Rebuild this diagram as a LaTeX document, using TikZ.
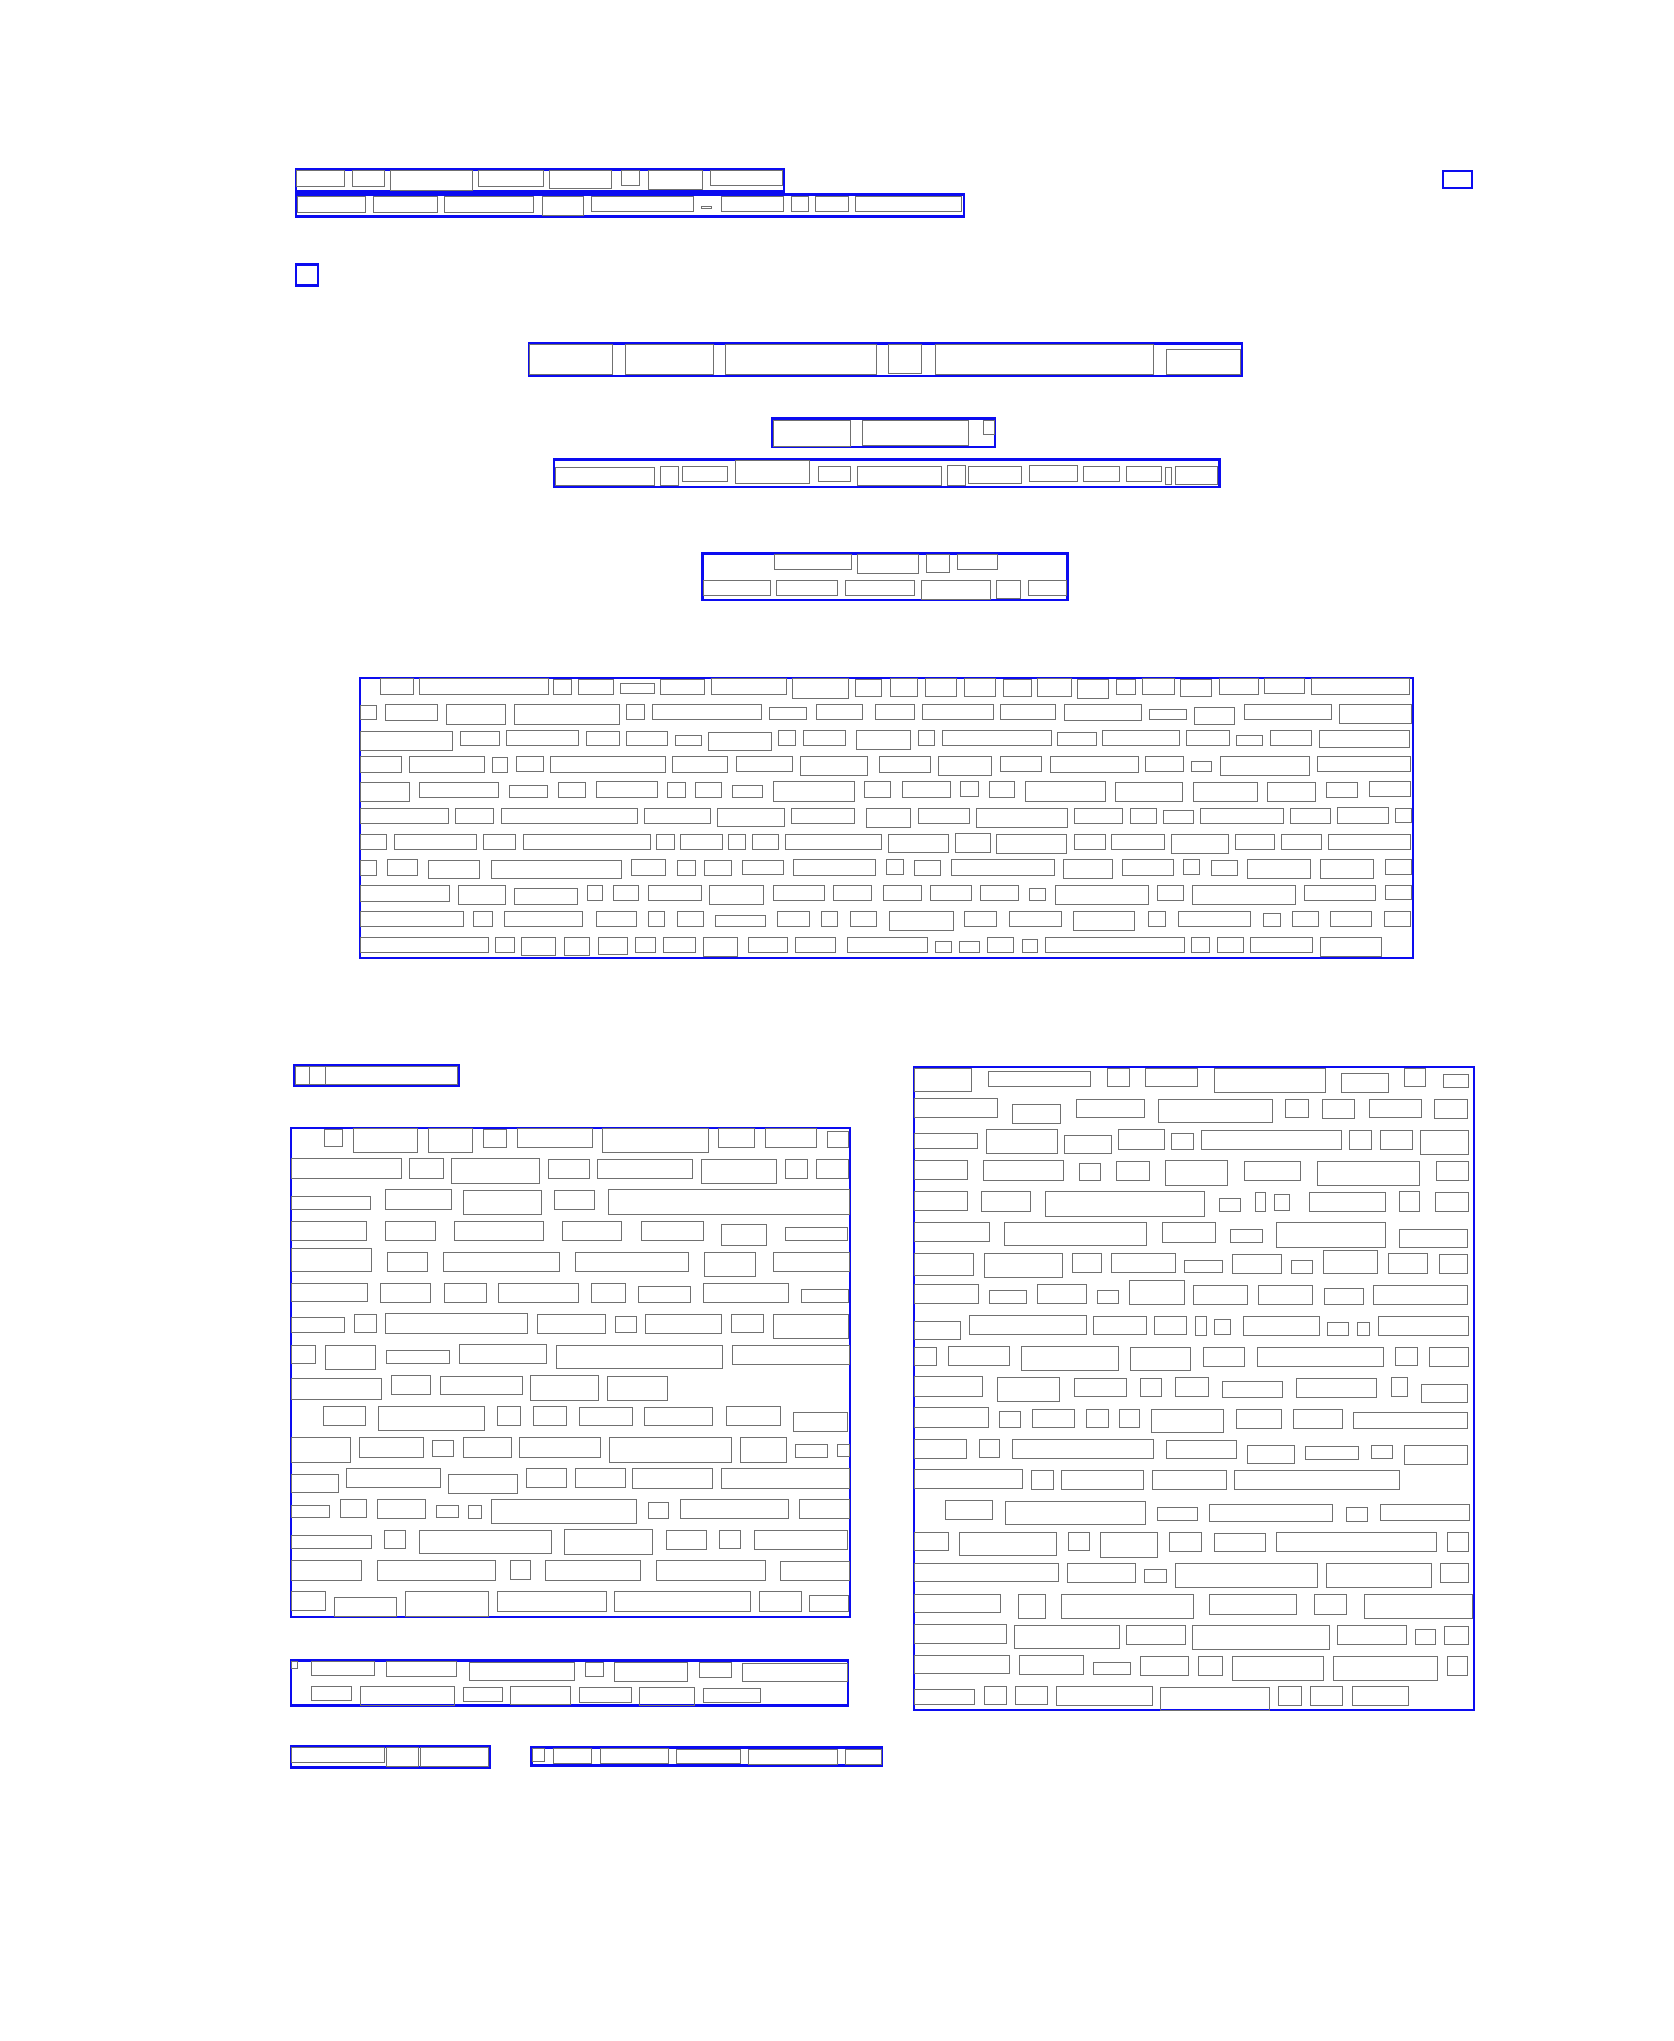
\documentclass[tikz,border=0pt]{standalone}
\definecolor{lblue}{RGB}{12,12,240}
\definecolor{wgray}{RGB}{112,112,112}
\tikzset{
  word/.style={draw=wgray, line width=0.5pt},
  blk/.style={draw=lblue, line width=1.2pt},
}
\begin{document}
\begin{tikzpicture}[x=0.5pt,y=-0.5pt]
\useasboundingbox[fill=white] (0,0) rectangle (1674,2041);

% ---------- top header lines (crop 1) ----------
\begin{scope}[shift={(280,150)},xscale=0.4583,yscale=0.3333]
\foreach \a/\b/\c/\d in {35/58/1100/125, 35/133/1493/200, 35/343/83/406}
  \draw[blk] (\a,\b) rectangle (\c,\d);
\foreach \a/\b/\c/\d in {37/62/140/110, 158/62/228/110, 241/62/419/122, 434/62/574/110,
  589/62/724/116, 746/62/785/106, 805/62/922/118, 940/62/1097/106,
  38/138/186/188, 204/138/343/188, 360/138/554/188, 572/138/663/195, 680/138/903/185,
  920/169/942/176, 964/138/1099/185, 1116/138/1153/185, 1168/138/1240/185, 1255/138/1488/185}
  \draw[word] (\a,\b) rectangle (\c,\d);
\end{scope}

% top right small box
\draw[blk] (1443,171) rectangle (1472,188);

% ---------- centred title blocks (crop 2) ----------
\begin{scope}[shift={(500,330)},xscale=0.4965,yscale=0.3333]
\foreach \a/\b/\c/\d in {58/40/1495/138, 549/266/997/351, 109/389/1449/471, 408/671/1143/810}
  \draw[blk] (\a,\b) rectangle (\c,\d);
\foreach \a/\b/\c/\d in {60/44/226/134, 252/44/429/134, 455/44/759/134, 783/44/849/130,
  877/44/1316/134, 1342/58/1492/134,
  551/270/705/349, 731/270/944/347, 974/270/995/313,
  111/412/311/466, 323/409/359/466, 367/409/459/454, 475/392/624/460, 642/409/705/454,
  721/409/890/466, 902/406/938/466, 944/409/1050/460, 1066/406/1163/454, 1175/409/1247/454,
  1261/409/1332/454, 1340/412/1352/463, 1360/409/1446/463,
  552/674/707/718, 721/674/843/730, 859/674/906/727, 922/674/1002/718,
  410/751/544/796, 556/751/680/796, 695/751/835/796, 849/751/988/808, 1000/751/1048/805,
  1064/751/1141/796}
  \draw[word] (\a,\b) rectangle (\c,\d);
\end{scope}

% ---------- big abstract block ----------
\draw[blk] (360,678) rectangle (1413,958);
\begin{scope}[shift={(355,675)},xscale=0.3438,yscale=0.3333]
\foreach \a/\b/\c/\d in {74/10/170/58, 187/10/562/58, 577/12/629/58, 649/12/753/58,
  773/25/872/55, 890/12/1017/58, 1038/10/1255/58, 1273/10/1435/70, 1456/12/1531/64,
  17/91/62/133, 88/88/240/136, 265/88/437/148, 463/88/768/148, 791/88/843/133,
  866/88/1183/133, 1206/97/1313/133, 1342/88/1476/133,
  17/170/283/226, 306/170/419/211, 442/166/649/211, 672/170/768/211, 791/170/910/211,
  933/181/1009/211, 1029/172/1212/226, 1232/166/1282/211, 1305/166/1427/211,
  17/244/135/292, 158/244/376/292, 399/247/445/292, 471/244/547/289, 570/244/904/292,
  924/244/1084/292, 1110/244/1273/289, 1296/244/1491/301,
  17/322/158/379, 187/322/416/367, 448/331/561/367, 593/322/669/367, 701/319/881/367,
  910/322/962/367, 991/322/1067/367, 1099/331/1186/367, 1218/319/1453/379, 1482/319/1557/367,
  17/400/271/445, 291/400/402/445, 425/400/823/445, 843/400/1035/445, 1055/400/1249/454,
  1270/400/1453/445,
  17/479/91/523, 114/479/352/523, 373/479/468/523, 489/479/860/523, 878/479/930/523,
  948/479/1069/523, 1087/479/1136/523, 1157/479/1232/523, 1252/479/1531/523,
  17/556/62/601, 94/553/181/601, 213/556/361/610, 396/556/776/610, 805/553/904/601,
  939/556/991/601, 1017/556/1096/601, 1128/556/1247/598, 1276/553/1514/601,
  17/631/274/679, 300/631/437/688, 463/640/648/688, 675/631/721/676, 753/631/826/676,
  855/631/1008/676, 1032/631/1189/688, 1218/631/1366/676, 1392/631/1502/676,
  17/709/315/754, 346/709/399/754, 434/709/663/754, 701/709/820/754, 855/709/901/754,
  939/709/1014/754, 1049/721/1194/754, 1229/709/1322/754, 1357/709/1403/754, 1441/709/1517/754,
  17/787/387/832, 410/787/463/832, 483/787/582/842, 608/787/683/842, 709/787/794/838,
  817/787/875/832, 898/787/991/832, 1014/787/1113/845, 1145/787/1258/832, 1282/787/1398/832}
  \draw[word] (\a,\b) rectangle (\c,\d);
\end{scope}
\begin{scope}[shift={(885,675)},xscale=0.3438,yscale=0.3333]
\foreach \a/\b/\c/\d in {15/10/95/64, 117/10/207/64, 230/10/320/64, 344/12/425/64,
  445/10/541/64, 561/12/651/70, 672/12/730/58, 750/10/843/58, 860/12/951/64,
  974/10/1087/58, 1104/10/1221/55, 1241/10/1526/58,
  -29/88/85/133, 108/88/315/133, 335/88/495/133, 521/88/747/136, 770/103/878/133,
  901/97/1017/148, 1046/88/1299/133, 1322/88/1531/145,
  -84/166/74/223, 97/166/143/211, 166/166/483/211, 503/172/614/211, 634/166/857/211,
  878/166/1003/211, 1023/181/1099/211, 1122/166/1241/211, 1264/166/1526/217,
  -17/244/132/292, 155/244/309/301, 335/244/454/289, 480/244/736/292, 759/244/869/289,
  892/259/951/289, 977/244/1235/301, 1258/244/1528/289,
  50/319/190/367, 219/319/271/364, 303/319/376/367, 408/319/640/379, 669/322/866/379,
  898/322/1084/379, 1113/322/1252/379, 1284/322/1374/367, 1409/319/1528/364,
  -55/400/74/457, 97/400/245/445, 265/400/532/457, 550/400/692/445, 715/400/791/445,
  811/406/898/445, 918/400/1160/445, 1180/400/1296/445, 1316/397/1464/445, 1485/400/1531/442,
  10/479/184/532, 204/475/306/532, 323/479/529/535, 550/479/640/523, 660/479/814/523,
  834/479/1000/535, 1020/479/1133/523, 1154/479/1270/523, 1290/479/1528/523,
  4/553/53/598, 86/556/161/601, 193/553/492/601, 518/553/663/610, 692/553/840/601,
  869/553/916/598, 951/556/1026/601, 1055/553/1238/610, 1267/553/1421/610, 1456/553/1531/598,
  -3/631/106/676, 132/631/251/676, 277/631/387/676, 419/640/468/676, 495/631/765/688,
  794/631/869/676, 895/631/1194/688, 1221/631/1427/676, 1456/631/1531/673,
  13/709/198/766, 230/709/323/754, 361/709/512/754, 547/709/727/766, 765/709/817/754,
  855/709/1064/754, 1102/715/1151/754, 1186/709/1261/754, 1296/709/1415/754, 1453/709/1528/754,
  -110/787/123/832, 146/799/193/832, 216/799/274/832, 297/787/373/832, 399/793/445/832,
  466/787/872/832, 892/787/945/832, 968/787/1043/832, 1064/787/1244/832, 1267/787/1444/845}
  \draw[word] (\a,\b) rectangle (\c,\d);
\end{scope}

% ---------- left column ----------
\draw[blk] (291,1128) rectangle (850,1617);
\begin{scope}[shift={(288,1060)},xscale=0.3641,yscale=0.3333]
\draw[blk] (17,17) rectangle (469,78);
\foreach \a/\b/\c/\d in {20/20/59/74, 59/20/102/74, 102/20/465/74,
  100/208/150/259, 179/205/355/277, 385/205/506/277, 538/208/599/262, 629/205/835/262,
  864/205/1156/277, 1182/205/1282/262, 1311/205/1452/262, 1481/214/1540/262,
  10/295/312/355, 335/295/427/355, 448/295/692/370, 716/298/827/355, 851/298/1111/355,
  1136/298/1341/370, 1366/298/1427/355, 1451/298/1540/355,
  10/409/227/448, 267/388/448/448, 483/391/697/463, 733/391/843/448, 881/388/1543/463,
  10/484/216/541, 267/484/405/541, 456/484/701/541, 755/484/917/541, 971/484/1142/541,
  1191/493/1314/556, 1366/502/1537/541,
  10/565/229/634, 272/577/382/634, 426/577/747/634, 790/577/1101/634, 1144/577/1284/649,
  1333/577/1543/634,
  10/670/218/724, 253/670/390/727, 429/670/545/727, 579/670/797/727, 834/670/926/727,
  963/679/1106/727, 1141/670/1375/727, 1410/688/1540/727,
  10/772/155/817, 182/763/242/817, 267/760/659/820, 684/763/873/820, 900/769/958/817,
  982/763/1191/820, 1218/763/1306/817, 1333/763/1540/835,
  10/856/76/910, 102/856/240/928, 270/871/443/910, 470/853/709/910, 738/856/1194/925,
  1221/856/1543/913}
  \draw[word] (\a,\b) rectangle (\c,\d);
\end{scope}
\begin{scope}[shift={(288,1370)},xscale=0.3641,yscale=0.3333]
\foreach \a/\b/\c/\d in {10/25/256/88, 283/16/391/73, 418/19/643/73, 667/16/852/91, 878/19/1043/91,
  97/109/213/166, 248/109/539/181, 574/109/638/166, 673/109/764/166, 801/112/945/166,
  980/112/1167/166, 1204/109/1353/166, 1388/127/1537/184,
  10/202/172/277, 196/202/372/262, 398/211/454/259, 481/202/613/262, 637/202/857/262,
  884/202/1219/277, 1243/202/1370/277, 1394/223/1482/262, 1509/223/1543/259,
  10/313/139/367, 160/295/418/352, 440/313/629/370, 656/295/764/352, 790/295/926/352,
  947/295/1167/355, 1191/295/1543/355,
  10/406/114/442, 144/388/216/442, 245/388/377/445, 409/406/468/442, 497/406/531/445,
  560/388/956/460, 991/397/1046/445, 1078/388/1375/445, 1405/388/1543/445,
  10/496/229/535, 264/481/322/535, 360/481/725/550, 760/478/1002/553, 1040/481/1150/538,
  1185/481/1244/535, 1281/481/1537/538,
  10/571/202/631, 245/571/569/631, 610/571/665/628, 708/571/969/631, 1013/571/1312/631,
  1352/574/1543/631,
  10/664/103/721, 127/682/298/740, 322/664/550/740, 574/664/876/724, 897/664/1271/724,
  1295/664/1411/724, 1432/676/1540/724}
  \draw[word] (\a,\b) rectangle (\c,\d);
\end{scope}
\begin{scope}[shift={(288,1660)},xscale=0.3864,yscale=0.3333]
\foreach \a/\b/\c/\d in {8/2/1450/137, 8/260/522/322, 630/263/1538/316}
  \draw[blk] (\a,\b) rectangle (\c,\d);
\foreach \a/\b/\c/\d in {10/4/24/25, 60/4/223/46, 254/4/435/49, 471/7/742/61, 771/7/817/49,
  846/7/1034/64, 1066/7/1148/52, 1176/10/1447/64,
  60/79/164/121, 187/79/430/136, 453/82/554/124, 577/79/732/133, 755/82/890/127,
  910/82/1052/136, 1076/85/1223/127,
  10/263/249/307, 254/263/337/319, 342/263/519/319,
  633/265/665/304, 686/265/786/310, 810/265/986/310, 1006/268/1171/310, 1192/268/1422/313,
  1442/268/1535/313}
  \draw[word] (\a,\b) rectangle (\c,\d);
\end{scope}

% ---------- right column ----------
\draw[blk] (914,1067) rectangle (1474,1710);
\begin{scope}[shift={(912,1062)},xscale=0.3666,yscale=0.3333]
\foreach \a/\b/\c/\d in {8/18/162/88, 208/28/486/73, 532/18/592/73, 638/18/780/73,
  826/18/1128/91, 1172/34/1299/91, 1343/18/1401/73, 1449/37/1518/76,
  8/109/233/166, 273/127/405/184, 450/112/635/166, 673/112/982/181, 1019/112/1082/166,
  1120/112/1208/169, 1248/112/1389/166, 1425/112/1515/169,
  8/214/179/259, 202/202/396/274, 417/220/543/274, 564/202/688/262, 709/214/769/262,
  790/205/1172/262, 1193/205/1254/262, 1278/205/1366/262, 1387/205/1518/277,
  8/295/151/352, 194/295/412/355, 456/304/513/355, 559/298/649/355, 692/295/861/370,
  907/298/1061/355, 1106/298/1385/370, 1430/298/1518/355,
  8/388/151/445, 189/388/323/448, 363/388/799/463, 839/409/895/448, 937/391/965/448,
  989/397/1031/445, 1084/391/1291/448, 1329/388/1385/448, 1427/391/1518/448,
  8/481/211/538, 251/481/641/550, 684/481/829/541, 869/502/957/541, 994/481/1291/556,
  1329/502/1515/556,
  8/574/168/640, 197/574/410/646, 439/574/516/631, 543/574/718/631, 744/595/846/631,
  875/577/1009/634, 1035/595/1093/634, 1123/565/1270/634, 1299/574/1406/634, 1438/577/1515/634,
  8/667/181/724, 211/685/312/724, 341/667/475/724, 505/685/562/724, 594/655/742/727,
  769/670/916/727, 946/670/1093/727, 1125/679/1232/727, 1259/670/1515/727,
  8/778/132/832, 156/760/475/817, 496/763/639/817, 662/763/750/817, 774/763/802/820,
  826/772/870/817, 905/763/1112/820, 1133/781/1191/820, 1215/781/1248/820, 1272/763/1518/820,
  8/856/67/910, 99/853/266/910, 298/853/562/925, 597/856/761/925, 796/856/907/913,
  943/856/1286/913, 1319/856/1379/910, 1411/856/1518/913}
  \draw[word] (\a,\b) rectangle (\c,\d);
\end{scope}
\begin{scope}[shift={(912,1385)},xscale=0.3666,yscale=0.3333]
\foreach \a/\b/\c/\d in {8/-26/192/34, 232/-23/402/49, 442/-20/584/34, 624/-20/680/34,
  720/-23/810/34, 848/-11/1011/37, 1049/-20/1267/37, 1308/-23/1352/34, 1389/-2/1515/52,
  8/67/208/127, 238/79/296/127, 328/73/443/127, 475/73/535/127, 567/73/620/127,
  652/73/851/142, 886/73/1009/130, 1041/73/1175/130, 1204/82/1515/130,
  8/163/149/220, 183/163/239/217, 273/163/660/220, 695/166/884/220, 916/181/1042/235,
  1074/184/1219/223, 1253/181/1311/220, 1343/181/1515/238,
  8/253/301/310, 325/256/386/313, 409/256/631/313, 657/256/859/313, 880/256/1330/313,
  91/346/219/403, 254/349/636/418, 671/367/778/406, 812/358/1148/409, 1185/367/1243/409,
  1278/358/1521/406,
  8/442/100/496, 129/442/394/511, 426/442/484/496, 513/442/671/517, 703/442/791/499,
  826/445/965/499, 995/442/1431/499, 1460/442/1518/499,
  8/535/399/589, 423/535/611/592, 635/553/693/592, 720/535/1107/607, 1131/535/1417/607,
  1441/535/1518/592,
  8/628/241/682, 290/628/364/700, 409/628/769/700, 812/628/1050/688, 1098/628/1186/688,
  1234/628/1530/700,
  8/718/258/775, 279/721/565/790, 586/721/745/778, 766/721/1140/793, 1161/721/1349/778,
  1373/733/1428/778, 1452/724/1518/778,
  8/811/266/865, 292/811/467/868, 494/832/595/868, 624/814/753/871, 782/814/848/871,
  875/814/1123/886, 1150/814/1434/886, 1460/814/1515/871,
  8/913/170/958, 197/904/258/958, 281/904/369/958, 393/904/655/961, 679/907/976/976,
  1000/904/1063/961, 1087/904/1175/961, 1201/904/1355/961}
  \draw[word] (\a,\b) rectangle (\c,\d);
\end{scope}
\end{tikzpicture}
\end{document}
